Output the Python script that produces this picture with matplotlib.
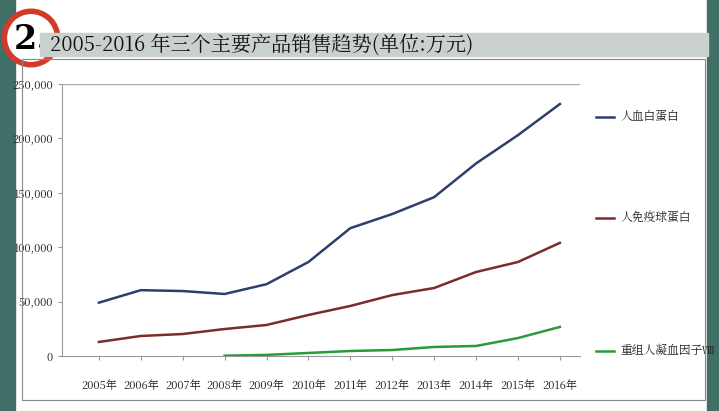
import matplotlib
matplotlib.use("Agg")
import matplotlib.pyplot as plt
from matplotlib.patches import Rectangle, Circle
from matplotlib import font_manager as fm

cjk = None
for f in fm.fontManager.ttflist:
    if "CJK" in f.name and ("SC" in f.name or cjk is None):
        cjk = f
        if "SC" in f.name:
            break
if cjk is not None:
    fm.fontManager.addfont(cjk.fname)
    plt.rcParams["font.family"] = "sans-serif"
    plt.rcParams["font.sans-serif"] = [cjk.name, "DejaVu Sans"]

years = ["2005年","2006年","2007年","2008年","2009年","2010年","2011年","2012年","2013年","2014年","2015年","2016年"]
albumin = [49000, 60500, 59700, 57000, 66000, 86400, 117500, 130500, 146000, 177000, 203000, 231600]
immuno = [12900, 18400, 20200, 24800, 28500, 37700, 46000, 56000, 62500, 77200, 86400, 104000]
factor8_years = years[3:]
factor8 = [300, 1000, 2800, 4600, 5500, 8300, 9200, 16500, 26700]
names = ["人血白蛋白", "人免疫球蛋白", "重组人凝血因子Ⅷ"]
colors = ["#2e3f6e", "#7b2c2c", "#2a9a3a"]
yticks = [0, 50000, 100000, 150000, 200000, 250000]
title = "2005-2016 年三个主要产品销售趋势(单位:万元)"

W, H = 719, 411
fig = plt.figure(figsize=(W/100, H/100), dpi=100)
fig.patch.set_facecolor("white")
fig.add_artist(Rectangle((0, 0), 15/W, 1, transform=fig.transFigure, color="#3f6f66", zorder=0))
fig.add_artist(Rectangle((707/W, 0), 12/W, 1, transform=fig.transFigure, color="#3f6f66", zorder=0))
fig.add_artist(Rectangle((40/W, 1-56/H), 668/W, 23/H, transform=fig.transFigure, color="#c9d0cd", zorder=1))
fig.text(50/W, 1-45/H, title, fontsize=14.5, va="center", ha="left", color="#111", zorder=3)
fig.add_artist(Rectangle((22/W, 1-400/H), 683/W, 341/H, transform=fig.transFigure, fill=False, ec="#888", lw=0.8, zorder=2))
badge = fig.add_axes([2/W, 1-74/H, 58/W, 72/H])
badge.set_xlim(-1, 1); badge.set_ylim(-1.24, 1.24); badge.axis("off")
badge.add_patch(Circle((0, 0), 0.92, fc="white", ec="#d33a2a", lw=4))
badge.text(0.02, -0.05, "2.", fontsize=24, ha="center", va="center", fontweight="bold", family="DejaVu Serif")

ax = fig.add_axes([62/W, 1-356/H, (580-62)/W, (356-84)/H])
x = list(range(len(years)))
ax.plot(x, albumin, color=colors[0], lw=1.8)
ax.plot(x, immuno, color=colors[1], lw=1.8)
ax.plot(x[3:], factor8, color=colors[2], lw=1.8)
ax.set_ylim(0, 250000)
ax.set_xlim(-0.88, 11.48)
ax.set_yticks(yticks)
ax.set_yticklabels([f"{v:,}" for v in yticks], fontsize=8)
ax.set_xticks(x)
ax.set_xticklabels(years, fontsize=8)
for s in ["top", "right"]:
    ax.spines[s].set_visible(False)
ax.spines["left"].set_color("#999")
ax.spines["bottom"].set_color("#999")
ax.axhline(250000, color="#aaa", lw=1)
ax.tick_params(length=3, colors="#999", labelcolor="#222")
ax.tick_params(axis="x", pad=14)
for n, c, yv in zip(names, colors, [117, 218, 351]):
    yy = (356 - yv) / 272 * 250000
    ax.plot([11.85, 12.3], [yy, yy], color=c, lw=1.8, clip_on=False)
    ax.text(12.45, yy, n, fontsize=8.5, va="center", ha="left", color="#222")

fig.savefig("out.png", dpi=100)
